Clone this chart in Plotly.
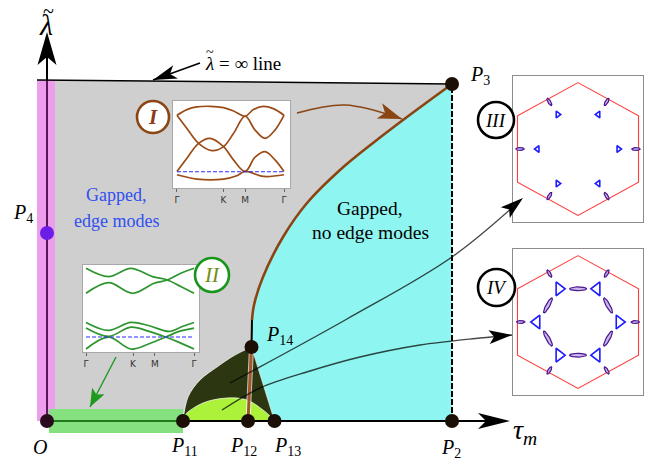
import numpy as np
import plotly.graph_objects as go

# ---------------- phase diagram (X ~ tau_m, Y ~ lambda-tilde, origin at O) ----------------
pt_names = ["O", "P2", "P3", "P4", "P11", "P12", "P13", "P14"]
pt_x = [0, 405, 405, 0, 136, 201, 227.5, 204.5]
pt_y = [0, 0, 337, 188, 0, 0, 0, 74]

# lambda-tilde = infinity line (top edge)
inf_x = [-10, 405]
inf_y = [341, 337]

# brown transition line, P3 down to just above P14
brown_x = [405, 356, 326, 293, 260, 236, 216, 207, 205]
brown_y = [337, 301, 278, 251, 218, 184, 144, 116, 101]

# outer edge of the dark pocket, P11 -> P14
pocket_x = [136, 141, 153, 170, 188, 204.5]
pocket_y = [0, 24, 41, 54, 66, 74]

# inner dome, P11 -> P13
dome_x = [136, 138, 156, 180, 200, 216, 225, 227.5]
dome_y = [0, 6, 18, 23, 21, 11, 3, 0]

# pointer curves
ptrIII_x = [183, 300, 405, 476]
ptrIII_y = [38, 102, 164, 223]
ptrIV_x = [175, 213, 263, 313, 373, 433, 465]
ptrIV_y = [11, 33, 50, 64, 76, 83, 86]
ptrI_x = [250, 298, 355]
ptrI_y = [308, 316, 302]
ptrII_x = [69, 43]
ptrII_y = [64, 14]
ptrInf_x = [153, 106]
ptrInf_y = [358, 341]

# ---------------- band-structure insets (k along Gamma-K-M-Gamma) ----------------
k_ticks = [0, 0.435, 0.637, 1]
k_text = ["Γ", "K", "M", "Γ"]

I_k1 = [0, 0.093, 0.186, 0.311, 0.435, 0.528, 0.637, 0.714, 0.807, 0.9, 1]
I_e1 = [1.95, 2.12, 2.20, 2.22, 2.18, 2.08, 1.92, 2.12, 2.22, 2.15, 1.95]
I_k2 = [0, 0.093, 0.202, 0.326, 0.435, 0.528, 0.637, 0.730, 0.823, 0.916, 1]
I_e2 = [1.95, 1.55, 1.10, 0.88, 1.00, 1.40, 1.92, 1.50, 1.25, 1.50, 1.95]
I_k3 = [0, 0.093, 0.202, 0.311, 0.435, 0.528, 0.637, 0.730, 0.823, 0.916, 1]
I_e3 = [0.25, 0.65, 1.10, 1.25, 1.00, 0.60, 0.25, 0.68, 0.85, 0.60, 0.25]
I_k4 = [0, 0.186, 0.435, 0.559, 0.637, 0.807, 1]
I_e4 = [0.15, 0.02, 0.02, 0.12, 0.25, 0.10, 0.15]
I_fermi = 0.24

II_kA = [0, 0.209, 0.415, 0.615, 0.754, 0.877, 1]
II_eA = [2.55, 2.30, 2.55, 2.30, 2.20, 2.00, 1.80]
II_kB = [0, 0.209, 0.431, 0.631, 0.754, 0.877, 1]
II_eB = [1.80, 2.12, 1.80, 2.10, 2.20, 2.40, 2.55]
II_kD = [0, 0.209, 0.415, 0.585, 0.769, 0.892, 1]
II_eD = [0.92, 0.68, 0.92, 0.82, 0.65, 0.80, 0.92]
II_kE = [0, 0.209, 0.415, 0.585, 0.738, 0.862, 1]
II_eE = [0.75, 0.50, 0.78, 0.65, 0.48, 0.32, 0.12]
II_kF = [0, 0.209, 0.415, 0.585, 0.738, 0.862, 1]
II_eF = [0.12, 0.48, 0.12, 0.28, 0.48, 0.65, 0.75]
II_fermi = 0.48

# ---------------- Fermi-surface insets (Brillouin zone, circumradius 1) ----------------
bz_x = [0, 0.866, 0.866, 0, -0.866, -0.866, 0]
bz_y = [1, 0.5, -0.5, -1, -0.5, 0.5, 1]

III_pk_x = [-0.29, 0.29, -0.58, 0.58, -0.29, 0.29]
III_pk_y = [0.52, 0.52, 0, 0, -0.52, -0.52]
III_pk_dir = ["right", "left", "left", "right", "right", "left"]
III_edge_x = [-0.41, 0.41, -0.83, 0.83, -0.41, 0.41]
III_edge_y = [0.71, 0.71, 0, 0, -0.71, -0.71]

IV_pk_x = [-0.27, 0.27, -0.59, 0.59, -0.27, 0.27]
IV_pk_y = [0.50, 0.50, 0, 0, -0.50, -0.50]
IV_pk_dir = ["right", "left", "left", "right", "right", "left"]
IV_ring_x = [0, 0.43, 0.43, 0, -0.43, -0.43]
IV_ring_y = [0.50, 0.25, -0.25, -0.50, -0.25, 0.25]
IV_edge_x = [-0.41, 0.41, -0.82, 0.82, -0.41, 0.41]
IV_edge_y = [0.73, 0.73, 0, 0, -0.73, -0.73]

# ---------------- styling ----------------
SERIF = "Liberation Serif"
GRAY = "#cfcfcf"
CYAN = "#8ff5f0"
OLIVE = "#2c3611"
LIME = "#adf23a"
PINK = "#ee9cec"
GREENBAND = "#85e07f"
BROWN = "#8b4513"
DOT = "#1b0f06"

fig = go.Figure()


def add(x, y, xa="x", ya="y", **kw):
    kw.setdefault("mode", "lines")
    fig.add_trace(go.Scatter(x=x, y=y, xaxis=xa, yaxis=ya, hoverinfo="skip",
                             showlegend=False, **kw))


def region(x, y, color, spline=False):
    add(x, y, fill="toself", fillcolor=color,
        line=dict(width=0, shape="spline" if spline else "linear"))


# gapped background with edge modes
region([8, inf_x[1], pt_x[1], 8], [inf_y[0], inf_y[1], 0, 0], GRAY)
# P4 line band
region([-10, 8, 8, -10], [0, 0, inf_y[0], inf_y[0]], PINK)
# no-edge-mode region: polygon plus curved sliver along the brown line
region(brown_x + [pt_x[7], pt_x[6], pt_x[1]], brown_y + [pt_y[7], 0, 0], CYAN)
region(brown_x, brown_y, CYAN, spline=True)
# dark pocket
region(pocket_x + [pt_x[6]], pocket_y + [0], OLIVE)
region(pocket_x, pocket_y, OLIVE, spline=True)
add(pocket_x, pocket_y, line=dict(color="rgba(255,255,255,0.75)", width=1, shape="spline"))
add([pt_x[7], pt_x[6]], [pt_y[7], 0], line=dict(color="rgba(255,255,255,0.6)", width=1))
# dome
region(dome_x, dome_y, LIME, spline=True)
add(dome_x, dome_y, line=dict(color="rgba(255,255,255,0.7)", width=1, shape="spline"))
# O - P11 band
region([2, pt_x[4], pt_x[4], 2], [-12, -12, 12, 12], GREENBAND)

# axes
add([0, 0], [0, inf_y[0]], line=dict(color="#5c145c", width=2))
add([0, 0], [inf_y[0], 380], line=dict(color="black", width=2))
add([0, pt_x[4]], [0, 0], line=dict(color="#23781f", width=2))
add([pt_x[4], 452], [0, 0], line=dict(color="black", width=2))

# lambda = infinity line
add(inf_x, inf_y, line=dict(color="black", width=1.5))
# dashed right boundary
add([pt_x[1], pt_x[2]], [pt_y[1], pt_y[2]], line=dict(color="black", width=2, dash="6px,2px"))

# brown transition line and its continuation
add(brown_x, brown_y, line=dict(color=BROWN, width=2.6, shape="spline"))
add([brown_x[-1], pt_x[7]], [brown_y[-1], pt_y[7]], line=dict(color="black", width=2))
add([pt_x[7], pt_x[5]], [pt_y[7], pt_y[5]], line=dict(color="rgba(255,255,255,0.7)", width=5))
add([pt_x[7], pt_x[5]], [pt_y[7], pt_y[5]], line=dict(color="#a0582a", width=3))

# pointer lines
add(ptrIII_x, ptrIII_y, line=dict(color="rgba(0,0,0,0.72)", width=1.4, shape="spline"))
add(ptrIV_x, ptrIV_y, line=dict(color="rgba(0,0,0,0.72)", width=1.4, shape="spline"))
add(ptrI_x, ptrI_y, line=dict(color=BROWN, width=1.6, shape="spline"))
add(ptrII_x, ptrII_y, line=dict(color="#1e9a1e", width=1.4))
add(ptrInf_x, ptrInf_y, line=dict(color="black", width=1.6))

# special points
dot_colors = ["#2a0b1e", DOT, DOT, "#6a1ee6", DOT, DOT, DOT, DOT]
add(pt_x, pt_y, mode="markers", marker=dict(size=14, color=dot_colors, line=dict(width=0)))

# ---------------- band insets ----------------
for xa, ya, col, bands, fermi in [
    ("x2", "y2", "#9c4c17", [(I_k1, I_e1), (I_k2, I_e2), (I_k3, I_e3), (I_k4, I_e4)], I_fermi),
    ("x3", "y3", "#2e952e", [(II_kA, II_eA), (II_kB, II_eB), (II_kD, II_eD),
                             (II_kE, II_eE), (II_kF, II_eF)], II_fermi),
]:
    for kk, ee in bands:
        add(kk, ee, xa=xa, ya=ya, line=dict(color=col, width=1.7, shape="spline"))
    add([0, 1], [fermi, fermi], xa=xa, ya=ya, line=dict(color="#2a2aff", width=1.1, dash="4px,2px"))

# ---------------- Fermi-surface insets ----------------
SX, SY = 70.1, 66.3   # px per BZ unit in these insets


def pocket_loop(cx, cy, a, b, tangential, xa, ya):
    th = np.arctan2(cy * SY, cx * SX) + (np.pi / 2 if tangential else 0.0)
    t = np.linspace(0, 2 * np.pi, 40)
    ox = a * np.cos(t) * np.cos(th) - b * np.sin(t) * np.sin(th)
    oy = a * np.cos(t) * np.sin(th) + b * np.sin(t) * np.cos(th)
    add(cx + ox / SX, cy + oy / SY, xa=xa, ya=ya, fill="toself", fillcolor="#c9b8ef",
        line=dict(color="#4a168c", width=1.2))


for xa, ya, pkx, pky, pkd, pks, edx, edy in [
    ("x4", "y4", III_pk_x, III_pk_y, III_pk_dir, 6, III_edge_x, III_edge_y),
    ("x5", "y5", IV_pk_x, IV_pk_y, IV_pk_dir, 12, IV_edge_x, IV_edge_y),
]:
    add(bz_x, bz_y, xa=xa, ya=ya, line=dict(color="#ff3b3b", width=1.1))
    for cx, cy in zip(edx, edy):
        pocket_loop(cx, cy, 4.2, 1.4, False, xa, ya)
    add(pkx, pky, xa=xa, ya=ya, mode="markers",
        marker=dict(size=pks, symbol=["triangle-%s-open" % d for d in pkd],
                    color="#1c1cff", line=dict(width=1.6, color="#1c1cff")))

for cx, cy in zip(IV_ring_x, IV_ring_y):
    pocket_loop(cx, cy, 8.5, 1.9, True, "x5", "y5")

# ---------------- shapes: arrowheads and labelled circles ----------------
shapes = []


def head(tip, frm, length, half, notch, color):
    tx, ty = tip
    dx, dy = tx - frm[0], ty - frm[1]
    n = np.hypot(dx, dy)
    ux, uy = dx / n, dy / n
    nx, ny = -uy, ux
    bx, by = tx - length * ux, ty - length * uy
    mx, my = tx - (length - notch) * ux, ty - (length - notch) * uy
    path = "M%.2f,%.2f L%.2f,%.2f L%.2f,%.2f L%.2f,%.2f Z" % (
        tx, ty, bx + half * nx, by + half * ny, mx, my, bx - half * nx, by - half * ny)
    shapes.append(dict(type="path", path=path, xref="x", yref="y", fillcolor=color,
                       line=dict(width=0), layer="above"))


head((463, 0), (400, 0), 32, 8, 8, "black")
head((0, 389), (0, 300), 33, 9.5, 8, "black")
head((ptrInf_x[-1], ptrInf_y[-1]), (ptrInf_x[0], ptrInf_y[0]), 24, 7, 6, "black")
head((ptrIII_x[-1], ptrIII_y[-1]), (ptrIII_x[-2], ptrIII_y[-2]), 23, 7, 5, "black")
head((ptrIV_x[-1], ptrIV_y[-1]), (ptrIV_x[-2], ptrIV_y[-2]), 23, 7, 5, "black")
head((ptrI_x[-1], ptrI_y[-1]), (330, 311), 24, 8, 6, BROWN)
head((ptrII_x[-1], ptrII_y[-1]), (ptrII_x[0], ptrII_y[0]), 18, 7, 4, "#1e9a1e")

for cx, cy, r, col in [(106, 304, 16, BROWN), (165, 146, 17, "#17961a"),
                       (449, 301, 18, "black"), (449.5, 133.5, 18.5, "black")]:
    shapes.append(dict(type="circle", xref="x", yref="y", x0=cx - r, x1=cx + r,
                       y0=cy - r, y1=cy + r, fillcolor="white",
                       line=dict(color=col, width=2.6), layer="above"))

# ---------------- text ----------------
ann = []


def txt(x, y, s, size, color="black", xanchor="center"):
    ann.append(dict(x=x, y=y, xref="x", yref="y", text=s, showarrow=False,
                    xanchor=xanchor, yanchor="middle",
                    font=dict(family=SERIF, size=size, color=color)))


# lambda-tilde axis label (tilde set as its own glyph above the lambda)
txt(-1, 397, "<i>λ</i>", 30)
txt(1, 410, "~", 20)
txt(478, -10, "<i>τ<sub>m</sub></i>", 28)
txt(-7, -26, "<i>O</i>", 20)
label_pos = {"P2": (404, -27), "P3": (433, 346), "P4": (-24, 208), "P11": (137, -25),
             "P12": (196, -25), "P13": (240, -25), "P14": (232, 86)}
for name, (lx, ly) in label_pos.items():
    txt(lx, ly, "<i>P</i><sub>%s</sub>" % name[1:], 20)
txt(156, 358, "<i>λ</i> = ∞ line", 19, xanchor="left")
txt(163, 369, "~", 14)
txt(69, 226, "Gapped,", 18, "#2f4ff0")
txt(69, 200, "edge modes", 18, "#2f4ff0")
txt(323, 213, "Gapped,", 19.5)
txt(323, 189, "no edge modes", 19.5)
txt(106, 304, "<b><i>I</i></b>", 21, "#8b3a1a")
txt(165, 146, "<i>II</i>", 21, "#6f8f14")
txt(449, 301, "<i>III</i>", 19)
txt(449.5, 133.5, "<i>IV</i>", 19)

# ---------------- layout ----------------
W, H = 665, 462


def dom(x0, x1, y0, y1):
    return [x0 / W, x1 / W], [1 - y1 / H, 1 - y0 / H]


hidden = dict(visible=False, fixedrange=True)
box = dict(showline=True, mirror=True, linecolor="#a8a8a8", linewidth=1,
           showgrid=False, zeroline=False, fixedrange=True)
kaxis = dict(box, tickmode="array", tickvals=k_ticks, ticktext=k_text, ticks="outside",
             ticklen=3, tickcolor="#666", tickfont=dict(family="DejaVu Sans", size=9, color="#333"))

dI = dom(173, 290, 101, 188)
dII = dom(83, 199, 265, 352)
dIII = dom(513, 643, 76, 222)
dIV = dom(513, 643, 249, 395)

fig.update_layout(
    width=W, height=H, margin=dict(l=0, r=0, t=0, b=0),
    paper_bgcolor="white", plot_bgcolor="white", showlegend=False,
    xaxis=dict(hidden, domain=[0, 1], range=[-47, 618]),
    yaxis=dict(hidden, domain=[0, 1], range=[-41, 421]),
    xaxis2=dict(kaxis, domain=dI[0], range=[-0.037, 1.056], anchor="y2"),
    yaxis2=dict(box, domain=dI[1], range=[-0.25, 2.38], showticklabels=False, anchor="x2"),
    xaxis3=dict(kaxis, domain=dII[0], range=[-0.028, 1.046], anchor="y3"),
    yaxis3=dict(box, domain=dII[1], range=[0.03, 2.65], showticklabels=False, anchor="x3"),
    xaxis4=dict(box, domain=dIII[0], range=[-0.93, 0.93], showticklabels=False, anchor="y4",
                linecolor="#8c8c8c"),
    yaxis4=dict(box, domain=dIII[1], range=[-1.10, 1.10], showticklabels=False, anchor="x4",
                linecolor="#8c8c8c"),
    xaxis5=dict(box, domain=dIV[0], range=[-0.93, 0.93], showticklabels=False, anchor="y5",
                linecolor="#8c8c8c"),
    yaxis5=dict(box, domain=dIV[1], range=[-1.10, 1.10], showticklabels=False, anchor="x5",
                linecolor="#8c8c8c"),
    shapes=shapes, annotations=ann,
)

fig.write_html("out.html")
